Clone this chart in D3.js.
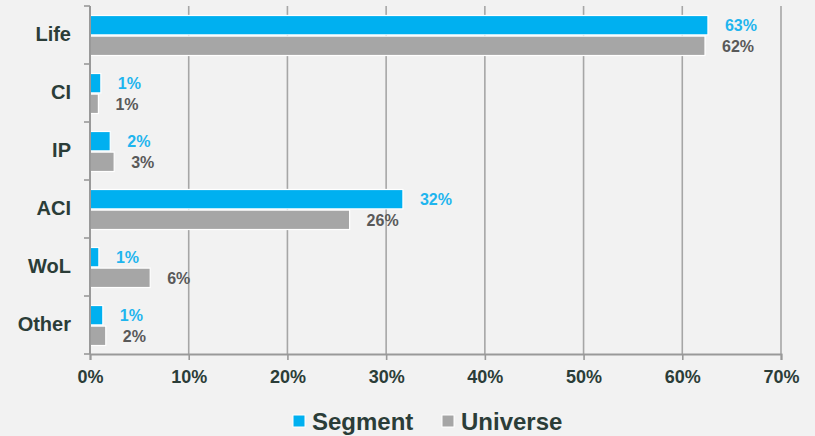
<!DOCTYPE html>
<html>
<head>
<meta charset="utf-8">
<script src="https://cdn.jsdelivr.net/npm/d3@7"></script>
<style>
  html, body { margin: 0; padding: 0; background: #f2f2f2; }
  svg { display: block; }
  text { font-family: "Liberation Sans", Arial, sans-serif; font-weight: bold; }
</style>
</head>
<body>
<svg id="chart" width="815" height="436"></svg>
<script>
const categories = ["Life", "CI", "IP", "ACI", "WoL", "Other"];
const seriesNames = ["Segment", "Universe"];
const segmentValues = [62.6, 1.1, 2.05, 31.7, 0.9, 1.3];
const universeValues = [62.3, 0.85, 2.45, 26.3, 6.1, 1.6];
const segmentLabels = ["63%", "1%", "2%", "32%", "1%", "1%"];
const universeLabels = ["62%", "1%", "3%", "26%", "6%", "2%"];
const xTicks = [0, 10, 20, 30, 40, 50, 60, 70];

const colors = { Segment: "#00b0f0", Universe: "#a6a6a6" };
const labelColors = { Segment: "#1fb5ee", Universe: "#595959" };
const textDark = "#2b3d38";

const svg = d3.select("#chart");
svg.append("rect").attr("width", 815).attr("height", 436).attr("fill", "#f2f2f2");

const x = d3.scaleLinear().domain([0, 70]).range([90, 781]);
const y0 = d3.scaleBand().domain(categories).range([6, 354]).padding(0);
const y1 = d3.scaleBand().domain(seriesNames).range([9.5, 49.5]).paddingInner(0.06);

// gridlines
svg.append("g").selectAll("line").data(xTicks.filter(d => d > 0)).join("line")
  .attr("x1", d => x(d)).attr("x2", d => x(d))
  .attr("y1", 6).attr("y2", 354)
  .attr("stroke", "#a6a6a6").attr("stroke-width", 1.6);

const rows = categories.map((c, i) => ({
  cat: c,
  vals: [
    { s: "Segment", v: segmentValues[i], l: segmentLabels[i] },
    { s: "Universe", v: universeValues[i], l: universeLabels[i] }
  ]
}));

const g = svg.append("g").selectAll("g").data(rows).join("g")
  .attr("transform", d => `translate(0,${y0(d.cat)})`);

g.selectAll("rect").data(d => d.vals).join("rect")
  .attr("x", x(0))
  .attr("y", d => y1(d.s))
  .attr("width", d => x(d.v) - x(0))
  .attr("height", y1.bandwidth())
  .attr("fill", d => colors[d.s])
  .attr("stroke", "#ffffff").attr("stroke-width", 1.2);

g.selectAll("text").data(d => d.vals).join("text")
  .attr("x", d => x(d.v) + 17)
  .attr("y", d => y1(d.s) + y1.bandwidth() / 2)
  .attr("dy", "0.36em")
  .attr("font-size", 16)
  .attr("fill", d => labelColors[d.s])
  .text(d => d.l);

// left axis
const yAxis = d3.axisLeft(y0).tickSize(0).tickPadding(19);
const ya = svg.append("g").attr("transform", `translate(${x(0)},0)`).call(yAxis);
ya.select(".domain").remove();
ya.selectAll("text").attr("font-size", 20).attr("fill", textDark)
  .attr("font-family", "'Liberation Sans', Arial, sans-serif").attr("font-weight", "bold");
// category boundary ticks
const bounds = categories.map(c => y0(c)).concat([y0.range()[1]]);
svg.append("g").selectAll("line").data(bounds).join("line")
  .attr("x1", x(0) - 6).attr("x2", x(0))
  .attr("y1", d => d).attr("y2", d => d)
  .attr("stroke", "#999999").attr("stroke-width", 1.6);
svg.append("line").attr("x1", x(0)).attr("x2", x(0)).attr("y1", 6).attr("y2", 354)
  .attr("stroke", "#999999").attr("stroke-width", 2);

// bottom axis
const xAxis = d3.axisBottom(x).tickValues(xTicks).tickFormat(d => d + "%").tickSize(6).tickPadding(10);
const xa = svg.append("g").attr("transform", "translate(0,354)").call(xAxis);
xa.select(".domain").attr("stroke", "#999999").attr("stroke-width", 2);
xa.selectAll(".tick line").attr("stroke", "#999999").attr("stroke-width", 1.6);
xa.selectAll("text").attr("font-size", 18).attr("fill", textDark)
  .attr("font-family", "'Liberation Sans', Arial, sans-serif").attr("font-weight", "bold");

// legend
const legendX = [293, 442];
const lg = svg.append("g").selectAll("g").data(seriesNames).join("g")
  .attr("transform", (d, i) => `translate(${legendX[i]},415)`);
lg.append("rect").attr("width", 12).attr("height", 12)
  .attr("fill", d => colors[d]).attr("stroke", "#ffffff").attr("stroke-width", 1);
lg.append("text").attr("x", 19).attr("y", 6).attr("dy", "0.36em")
  .attr("font-size", 24).attr("fill", textDark).text(d => d);
</script>
</body>
</html>
